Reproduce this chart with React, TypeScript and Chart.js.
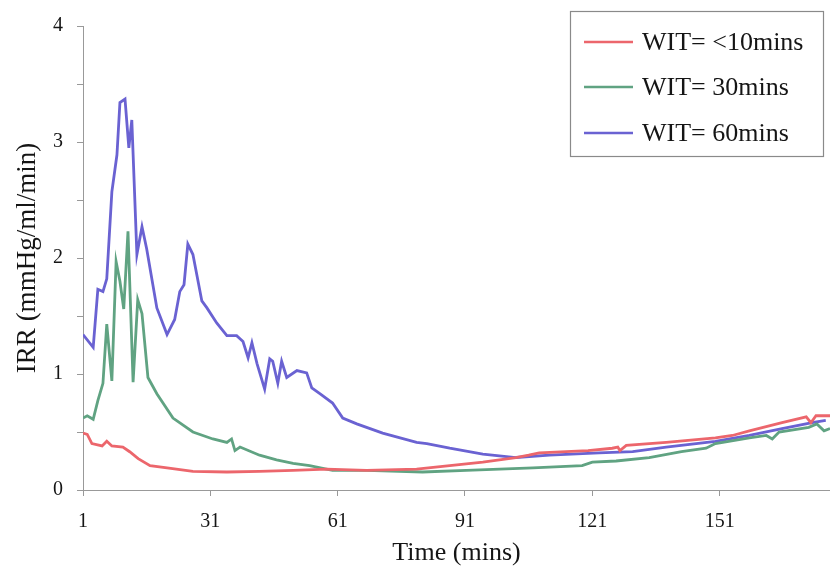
import React, { useEffect, useRef } from "react";
import { Chart, registerables } from "chart.js";

Chart.register(...registerables);

const seriesLabels = ["WIT= <10mins", "WIT= 30mins", "WIT= 60mins"];
const seriesColors = ["rgb(236,102,108)", "rgb(96,163,130)", "rgb(106,98,210)"];

const xTickValues = [1, 31, 61, 91, 121, 151];

const redTimes = [1, 2, 3.1, 5.5, 6.6, 7.8, 10.4, 12, 14, 16.8, 20.8, 26.9, 34.9, 42.6, 50.5, 58.4, 67.8, 79.6, 87.4, 95.2, 103, 106, 108.5, 114.8, 120, 125.7, 127, 127.5, 129, 138.4, 150, 154, 158, 165.7, 171.4, 172.5, 173.7, 177];
const redValues = [0.49, 0.48, 0.40, 0.38, 0.42, 0.38, 0.37, 0.33, 0.27, 0.21, 0.19, 0.16, 0.155, 0.16, 0.17, 0.18, 0.17, 0.18, 0.21, 0.24, 0.28, 0.30, 0.32, 0.33, 0.34, 0.36, 0.37, 0.34, 0.385, 0.41, 0.45, 0.47, 0.51, 0.58, 0.63, 0.58, 0.64, 0.64];

const greenTimes = [1, 2, 3.4, 4.5, 5.7, 6.6, 7.8, 8.8, 9.7, 10.6, 11.6, 12.8, 13.9, 14.9, 16.3, 18.4, 22.2, 26.9, 31.6, 34.9, 36, 36.8, 38, 42.6, 46.6, 50.5, 54.4, 59.8, 67.8, 81, 91.3, 107, 118.6, 121, 126.6, 134.4, 142, 147.8, 150, 158, 162, 163.4, 165, 172, 173.9, 175.6, 177];
const greenValues = [0.62, 0.64, 0.61, 0.77, 0.92, 1.43, 0.94, 1.97, 1.80, 1.56, 2.23, 0.93, 1.64, 1.52, 0.97, 0.83, 0.62, 0.50, 0.44, 0.41, 0.44, 0.34, 0.37, 0.30, 0.26, 0.23, 0.21, 0.17, 0.17, 0.155, 0.17, 0.19, 0.21, 0.24, 0.25, 0.28, 0.33, 0.36, 0.40, 0.45, 0.47, 0.44, 0.50, 0.54, 0.57, 0.51, 0.53];

const blueTimes = [1, 3.4, 4.5, 5.7, 6.6, 7.8, 9, 9.7, 10.9, 11.8, 12.5, 13.7, 14.9, 16, 18.4, 20.8, 22.6, 23.8, 24.8, 25.7, 26.9, 29, 30.2, 32.5, 34.9, 37.2, 38.7, 39.9, 40.8, 42, 43.8, 45, 45.7, 46.9, 47.8, 49, 51.4, 53.7, 54.9, 56.8, 59.8, 62.2, 65.5, 71.6, 79.6, 82, 87.4, 95.2, 103, 110.9, 122.6, 130.5, 138.4, 150, 158, 165.7, 172.8, 176];
const blueValues = [1.34, 1.23, 1.73, 1.71, 1.82, 2.57, 2.89, 3.34, 3.37, 2.95, 3.19, 2.03, 2.27, 2.08, 1.57, 1.34, 1.47, 1.71, 1.77, 2.12, 2.03, 1.63, 1.57, 1.44, 1.33, 1.33, 1.28, 1.14, 1.27, 1.09, 0.87, 1.13, 1.11, 0.92, 1.11, 0.97, 1.03, 1.01, 0.88, 0.83, 0.75, 0.62, 0.57, 0.49, 0.41, 0.40, 0.36, 0.31, 0.28, 0.30, 0.32, 0.33, 0.37, 0.42, 0.47, 0.53, 0.58, 0.60];

const toPoints = (ts: number[], vs: number[]) => ts.map((t, i) => ({ x: t, y: vs[i] }));

const SERIF = "'Liberation Serif', 'Times New Roman', serif";
const TEXT = "#151515";

const boxLegend = {
  id: "boxLegend",
  afterDraw(chart: any) {
    const ctx = chart.ctx;
    const left = 570, top = 11, right = 823, bottom = 156;
    ctx.save();
    ctx.fillStyle = "#ffffff";
    ctx.fillRect(left, top, right - left, bottom - top);
    ctx.strokeStyle = "#8a8a8a";
    ctx.lineWidth = 1.2;
    ctx.strokeRect(left + 0.5, top + 0.5, right - left, bottom - top);
    ctx.font = `26px ${SERIF}`;
    ctx.textBaseline = "middle";
    ctx.textAlign = "left";
    const rows = [42, 87, 133];
    chart.data.datasets.forEach((ds: any, i: number) => {
      const y = rows[i];
      ctx.strokeStyle = ds.borderColor;
      ctx.lineWidth = 2.5;
      ctx.beginPath();
      ctx.moveTo(584, y);
      ctx.lineTo(633, y);
      ctx.stroke();
      ctx.fillStyle = TEXT;
      ctx.fillText(ds.label, 642, y + 1);
    });
    ctx.restore();
  },
};

export default function App() {
  const canvasRef = useRef<HTMLCanvasElement | null>(null);

  useEffect(() => {
    document.body.style.margin = "0";
    const canvas = canvasRef.current;
    if (!canvas) return;
    const chart = new Chart(canvas, {
      type: "line",
      data: {
        datasets: [
          { label: seriesLabels[0], data: toPoints(redTimes, redValues), borderColor: seriesColors[0] },
          { label: seriesLabels[1], data: toPoints(greenTimes, greenValues), borderColor: seriesColors[1] },
          { label: seriesLabels[2], data: toPoints(blueTimes, blueValues), borderColor: seriesColors[2] },
        ].map((d) => ({ ...d, borderWidth: 2.8, pointRadius: 0, tension: 0, fill: false })),
      },
      options: {
        animation: false,
        responsive: false,
        events: [],
        layout: { padding: { top: 23, right: 0, bottom: 0, left: 0 } },
        plugins: { legend: { display: false }, tooltip: { enabled: false } },
        scales: {
          x: {
            type: "linear",
            min: 1,
            max: 177,
            afterBuildTicks: (axis: any) => {
              axis.ticks = xTickValues.map((v) => ({ value: v }));
            },
            afterFit: (axis: any) => {
              axis.height = 80;
            },
            grid: { drawOnChartArea: false, drawTicks: true, tickLength: 6, color: "#999" },
            border: { display: true, color: "#999", width: 1 },
            ticks: {
              autoSkip: false,
              maxRotation: 0,
              padding: 14,
              color: TEXT,
              font: { family: SERIF, size: 20 },
              callback: (v: any) => String(v),
            },
            title: {
              display: true,
              text: "Time (mins)",
              color: TEXT,
              font: { family: SERIF, size: 26 },
              padding: { top: 0, bottom: 1 },
            },
          },
          y: {
            type: "linear",
            min: 0,
            max: 4,
            afterFit: (axis: any) => {
              axis.width = 83;
            },
            grid: { drawOnChartArea: false, drawTicks: true, tickLength: 6, color: "#999" },
            border: { display: true, color: "#999", width: 1 },
            ticks: {
              stepSize: 0.5,
              padding: 14,
              color: TEXT,
              font: { family: SERIF, size: 20 },
              callback: (v: any) => (Number.isInteger(v) ? String(v) : ""),
            },
            title: {
              display: true,
              text: "IRR (mmHg/ml/min)",
              color: TEXT,
              font: { family: SERIF, size: 27 },
              padding: { top: 12, bottom: 0 },
            },
          },
        },
      },
      plugins: [boxLegend],
    } as any);
    return () => chart.destroy();
  }, []);

  return (
    <div style={{ width: 830, height: 570, background: "#fff" }}>
      <canvas ref={canvasRef} width={830} height={570} />
    </div>
  );
}
